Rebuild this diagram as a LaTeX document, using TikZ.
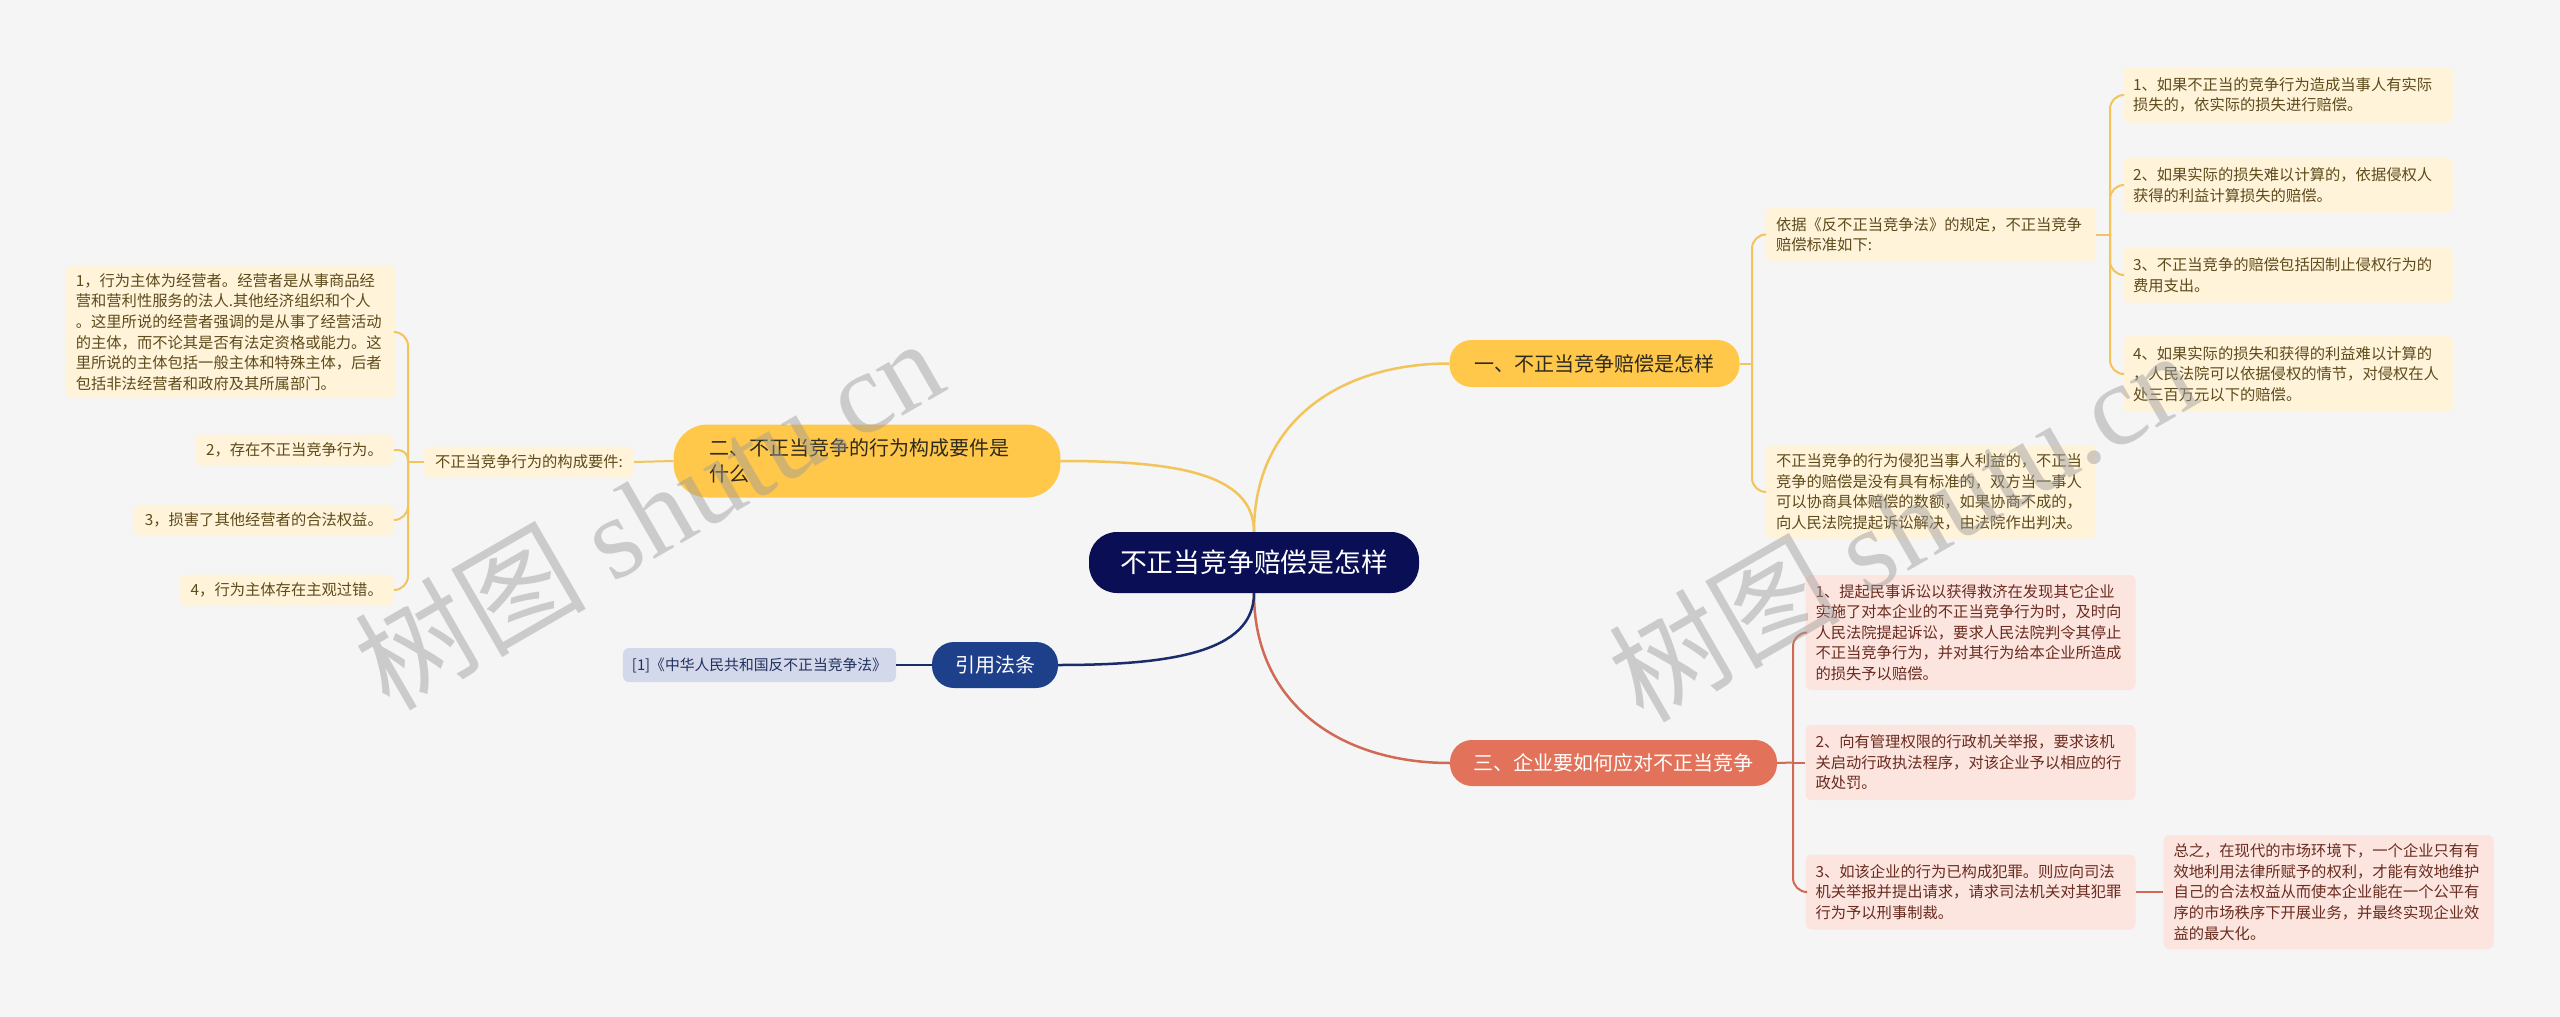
\documentclass[tikz,border=0pt]{standalone}
\usepackage{fontspec}
\setmainfont{Noto Sans CJK SC}
\newfontfamily\wmlatin{Liberation Serif}
\definecolor{bgc}{HTML}{F5F5F5}
\definecolor{rootc}{HTML}{0A0E55}
\definecolor{yelb}{HTML}{FFC84B}
\definecolor{yelline}{HTML}{F2C45A}
\definecolor{yelleaf}{HTML}{FFF3D9}
\definecolor{yeltext}{HTML}{5E4B1C}
\definecolor{redb}{HTML}{E2725A}
\definecolor{redline}{HTML}{D06A55}
\definecolor{redleaf}{HTML}{FCE4DF}
\definecolor{redtext}{HTML}{6A2C20}
\definecolor{blub}{HTML}{1E3F8A}
\definecolor{bluline}{HTML}{1A2D6A}
\definecolor{bluleaf}{HTML}{D3D9EA}
\definecolor{blutext}{HTML}{22305E}
\definecolor{darktext}{HTML}{2E2A1E}
\tikzset{
  leafbox/.style={rounded corners=6pt, inner xsep=10pt, inner ysep=4pt,
    font=\fontsize{15.3pt}{20.6pt}\selectfont, align=left},
  widebox/.style={text width=310pt},
  yleaf/.style={leafbox, fill=yelleaf, text=yeltext},
  rleaf/.style={leafbox, fill=redleaf, text=redtext},
  bleaf/.style={leafbox, fill=bluleaf, text=blutext},
  branchbox/.style={rounded corners=22pt, inner sep=0pt, minimum height=46pt,
    font=\fontsize{20pt}{26pt}\selectfont},
  yline/.style={draw=yelline, line width=2pt},
  rline/.style={draw=redline, line width=2pt},
  bline/.style={draw=bluline, line width=2.5pt},
  wm/.style={text=gray!80, text opacity=0.45, font=\fontsize{116pt}{120pt}\selectfont}
}
\begin{document}
\begin{tikzpicture}[x=1pt,y=-1pt]
\useasboundingbox (0,0) rectangle (2560,1017);
\fill[bgc] (0,0) rectangle (2560,1017);

% root and branches
\node[rounded corners=28pt, fill=rootc, text=white, minimum width=330pt, minimum height=61pt,
  inner sep=0pt, font=\fontsize{26.8pt}{30pt}\selectfont] (root) at (1254,562.5) {不正当竞争赔偿是怎样};
\node[branchbox, fill=yelb, text=darktext, minimum width=290pt, minimum height=47pt] (b1) at (1594.5,363.5) {一、不正当竞争赔偿是怎样};
\node[branchbox, fill=yelb, text=darktext, rounded corners=34pt, text width=315pt, inner xsep=36pt, inner ysep=4pt,
  minimum height=73pt, align=left] (b2) at (867,461) {二、不正当竞争的行为构成要件是\\什么};
\node[branchbox, fill=redb, text=white, minimum width=327pt] (b3) at (1613.5,763) {三、企业要如何应对不正当竞争};
\node[branchbox, fill=blub, text=white, minimum width=126pt] (b4) at (995,665) {引用法条};

% branch 1 children
\node[yleaf, widebox, minimum height=54pt] (c11) at (1931,234.5) {依据《反不正当竞争法》的规定，不正当竞争\\赔偿标准如下:};
\node[yleaf, widebox, minimum height=55pt] (c111) at (2288,95) {1、如果不正当的竞争行为造成当事人有实际\\损失的，依实际的损失进行赔偿。};
\node[yleaf, widebox, minimum height=55pt] (c112) at (2288,185) {2、如果实际的损失难以计算的，依据侵权人\\获得的利益计算损失的赔偿。};
\node[yleaf, widebox, minimum height=55pt] (c113) at (2288,275) {3、不正当竞争的赔偿包括因制止侵权行为的\\费用支出。};
\node[yleaf, widebox, minimum height=76pt] (c114) at (2288,374) {4、如果实际的损失和获得的利益难以计算的\\，人民法院可以依据侵权的情节，对侵权在人\\处三百万元以下的赔偿。};
\node[yleaf, widebox, minimum height=93pt] (c12) at (1931,492) {不正当竞争的行为侵犯当事人利益的，不正当\\竞争的赔偿是没有具有标准的，双方当一事人\\可以协商具体赔偿的数额，如果协商不成的，\\向人民法院提起诉讼解决，由法院作出判决。};

% branch 2 children
\node[yleaf, minimum height=31pt, inner xsep=11pt] (c21) at (529,462) {不正当竞争行为的构成要件:};
\node[yleaf, widebox, minimum height=132pt, anchor=east] (c211) at (396,332) {1，行为主体为经营者。经营者是从事商品经\\营和营利性服务的法人.其他经济组织和个人\\。这里所说的经营者强调的是从事了经营活动\\的主体，而不论其是否有法定资格或能力。这\\里所说的主体包括一般主体和特殊主体，后者\\包括非法经营者和政府及其所属部门。};
\node[yleaf, minimum height=31pt, inner xsep=11pt, anchor=east] (c212) at (394,450) {2，存在不正当竞争行为。};
\node[yleaf, minimum height=31pt, inner xsep=11pt, anchor=east] (c213) at (394,520) {3，损害了其他经营者的合法权益。};
\node[yleaf, minimum height=31pt, inner xsep=11pt, anchor=east] (c214) at (394,590) {4，行为主体存在主观过错。};

% branch 3 children
\node[rleaf, widebox, minimum height=115pt] (c31) at (1970.5,632.5) {1、提起民事诉讼以获得救济在发现其它企业\\实施了对本企业的不正当竞争行为时，及时向\\人民法院提起诉讼，要求人民法院判令其停止\\不正当竞争行为，并对其行为给本企业所造成\\的损失予以赔偿。};
\node[rleaf, widebox, minimum height=75pt] (c32) at (1970.5,762.5) {2、向有管理权限的行政机关举报，要求该机\\关启动行政执法程序，对该企业予以相应的行\\政处罚。};
\node[rleaf, widebox, minimum height=75pt] (c33) at (1970.5,892) {3、如该企业的行为已构成犯罪。则应向司法\\机关举报并提出请求，请求司法机关对其犯罪\\行为予以刑事制裁。};
\node[rleaf, widebox, minimum height=114pt] (c331) at (2328.5,892) {总之，在现代的市场环境下，一个企业只有有\\效地利用法律所赋予的权利，才能有效地维护\\自己的合法权益从而使本企业能在一个公平有\\序的市场秩序下开展业务，并最终实现企业效\\益的最大化。};

% branch 4 child
\node[bleaf, minimum height=34pt, inner xsep=9pt, font=\fontsize{14.8pt}{18pt}\selectfont] (c41) at (759.5,665) {[1]《中华人民共和国反不正当竞争法》};

% main curves
\draw[yline, line width=2.5pt] (root.north) .. controls +(0,-110) and +(-110,0) .. (b1.west);
\draw[yline, line width=2.5pt] (root.north) .. controls +(0,-60) and +(110,0) .. (b2.east);
\draw[rline, line width=2.5pt] (root.south) .. controls +(0,110) and +(-110,0) .. (b3.west);
\draw[bline] (root.south) .. controls +(0,60) and +(110,0) .. (b4.east);

% brackets
\coordinate (k1) at (1752,363.5);
\draw[yline] (b1.east) -- (k1);
\draw[yline, rounded corners=14pt] (k1) |- (c11.west);
\draw[yline, rounded corners=14pt] (k1) |- (c12.west);

\coordinate (k11) at (2110,234.5);
\draw[yline] (c11.east) -- (k11);
\draw[yline, rounded corners=14pt] (k11) |- (c111.west);
\draw[yline, rounded corners=14pt] (k11) |- (c112.west);
\draw[yline, rounded corners=14pt] (k11) |- (c113.west);
\draw[yline, rounded corners=14pt] (k11) |- (c114.west);

\draw[yline] (b2.west) -- (c21.east);
\coordinate (k21) at (408,462);
\draw[yline] (c21.west) -- (k21);
\draw[yline, rounded corners=14pt] (k21) |- (c211.east);
\draw[yline, rounded corners=10pt] (k21) |- (c212.east);
\draw[yline, rounded corners=14pt] (k21) |- (c213.east);
\draw[yline, rounded corners=14pt] (k21) |- (c214.east);

\coordinate (k3) at (1793,762.5);
\draw[rline] (b3.east) -- (k3);
\draw[rline, rounded corners=14pt] (k3) |- (c31.west);
\draw[rline] (k3) -- (c32.west);
\draw[rline, rounded corners=14pt] (k3) |- (c33.west);
\draw[rline] (c33.east) -- (c331.west);

\draw[bline] (b4.west) -- (c41.east);

% watermarks
\node[wm, rotate=30] (wm1) at (648,512) {树图 {\wmlatin shutu.cn}};
\node[wm, rotate=30] (wm2) at (1902,524) {树图 {\wmlatin shutu.cn}};
\end{tikzpicture}
\end{document}
